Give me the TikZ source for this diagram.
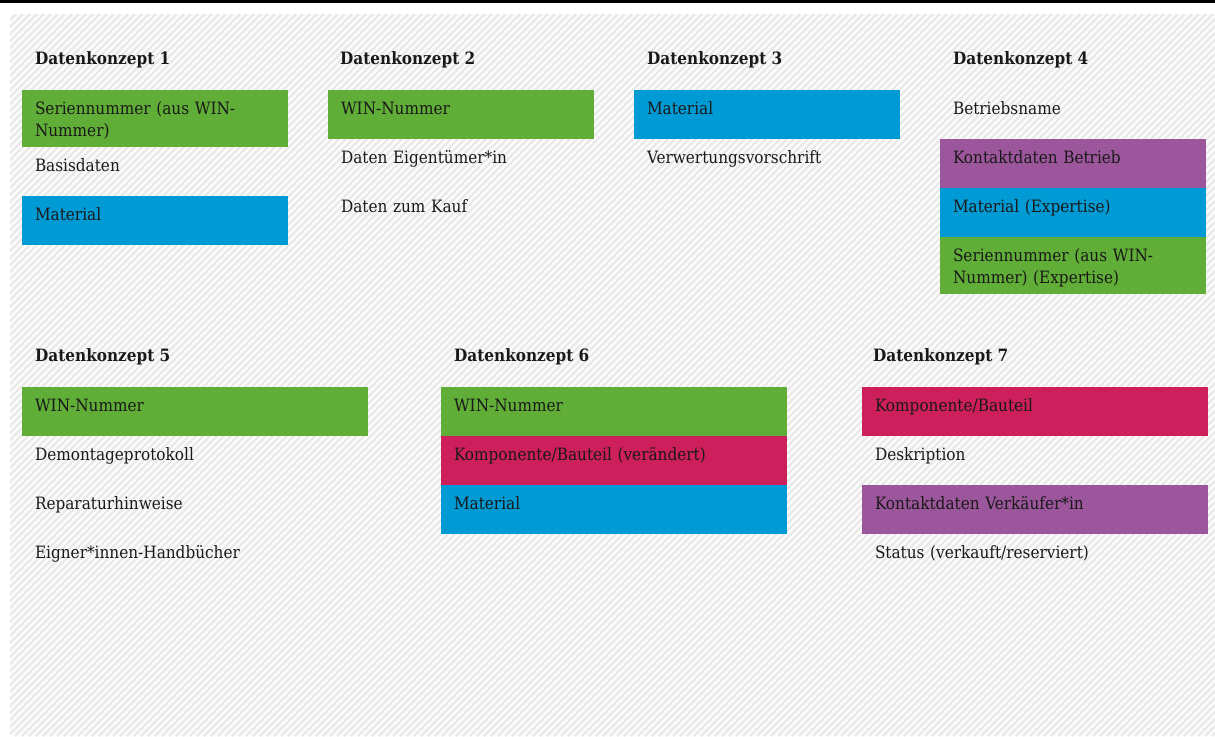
\documentclass[tikz,border=0pt]{standalone}
\usepackage{fontspec}
\setmainfont{DejaVu Serif Condensed}
\usepackage{tikz}
\usetikzlibrary{positioning}
\definecolor{wingreen}{RGB}{96,174,55}
\definecolor{winblue}{RGB}{0,155,212}
\definecolor{winpurple}{RGB}{156,86,156}
\definecolor{winred}{RGB}{205,31,92}
\definecolor{schrift}{RGB}{25,25,25}

\begin{document}
\begin{tikzpicture}[x=1pt, y=-1pt, font=\fontsize{17}{22}\selectfont, text=schrift,
  feld/.style={anchor=north west, inner xsep=13pt, inner ysep=0pt, outer sep=0pt,
    text width=240pt, align=left, text height=24pt, text depth=25pt},
  breit/.style={text width=320pt},
  zweizeilig/.style={text depth=33pt},
  gruen/.style={feld, fill=wingreen},
  blau/.style={feld, fill=winblue},
  lila/.style={feld, fill=winpurple},
  rot/.style={feld, fill=winred},
  kopf/.style={anchor=base west, inner sep=0pt, font=\fontsize{17}{22}\selectfont\bfseries}]
\useasboundingbox (0,0) rectangle (1215,736);
% hintergrund
\fill[black] (0,0) rectangle (1215,2.5);
\fill[gray!2] (10,14) rectangle (1215,736);
\begin{scope}
\clip (10,14) rectangle (1215,736);
\foreach \i in {-720,-713,...,1215}
  \draw[gray!17, line width=2.4pt] (\i,736) -- ++(722,-722);
\end{scope}

% Datenkonzept 1
\node[kopf] (k1) at (35,64) {Datenkonzept 1};
\node[gruen, zweizeilig] (k1a) at (22,90) {Seriennummer (aus WIN-\\Nummer)};
\node[feld, below=0pt of k1a] (k1b) {Basisdaten};
\node[blau, below=0pt of k1b] (k1c) {Material};

% Datenkonzept 2
\node[kopf] (k2) at (340,64) {Datenkonzept 2};
\node[gruen] (k2a) at (328,90) {WIN-Nummer};
\node[feld, below=0pt of k2a] (k2b) {Daten Eigentümer*in};
\node[feld, below=0pt of k2b] (k2c) {Daten zum Kauf};

% Datenkonzept 3
\node[kopf] (k3) at (647,64) {Datenkonzept 3};
\node[blau] (k3a) at (634,90) {Material};
\node[feld, below=0pt of k3a] (k3b) {Verwertungsvorschrift};

% Datenkonzept 4
\node[kopf] (k4) at (953,64) {Datenkonzept 4};
\node[feld] (k4a) at (940,90) {Betriebsname};
\node[lila, below=0pt of k4a] (k4b) {Kontaktdaten Betrieb};
\node[blau, below=0pt of k4b] (k4c) {Material (Expertise)};
\node[gruen, zweizeilig, below=0pt of k4c] (k4d) {Seriennummer (aus WIN-\\Nummer) (Expertise)};

% Datenkonzept 5
\node[kopf] (k5) at (35,361) {Datenkonzept 5};
\node[gruen, breit] (k5a) at (22,387) {WIN-Nummer};
\node[feld, breit, below=0pt of k5a] (k5b) {Demontageprotokoll};
\node[feld, breit, below=0pt of k5b] (k5c) {Reparaturhinweise};
\node[feld, breit, below=0pt of k5c] (k5d) {Eigner*innen-Handbücher};

% Datenkonzept 6
\node[kopf] (k6) at (454,361) {Datenkonzept 6};
\node[gruen, breit] (k6a) at (441,387) {WIN-Nummer};
\node[rot, breit, below=0pt of k6a] (k6b) {Komponente/Bauteil (verändert)};
\node[blau, breit, below=0pt of k6b] (k6c) {Material};

% Datenkonzept 7
\node[kopf] (k7) at (873,361) {Datenkonzept 7};
\node[rot, breit] (k7a) at (862,387) {Komponente/Bauteil};
\node[feld, breit, below=0pt of k7a] (k7b) {Deskription};
\node[lila, breit, below=0pt of k7b] (k7c) {Kontaktdaten Verkäufer*in};
\node[feld, breit, below=0pt of k7c] (k7d) {Status (verkauft/reserviert)};
\end{tikzpicture}
\end{document}
